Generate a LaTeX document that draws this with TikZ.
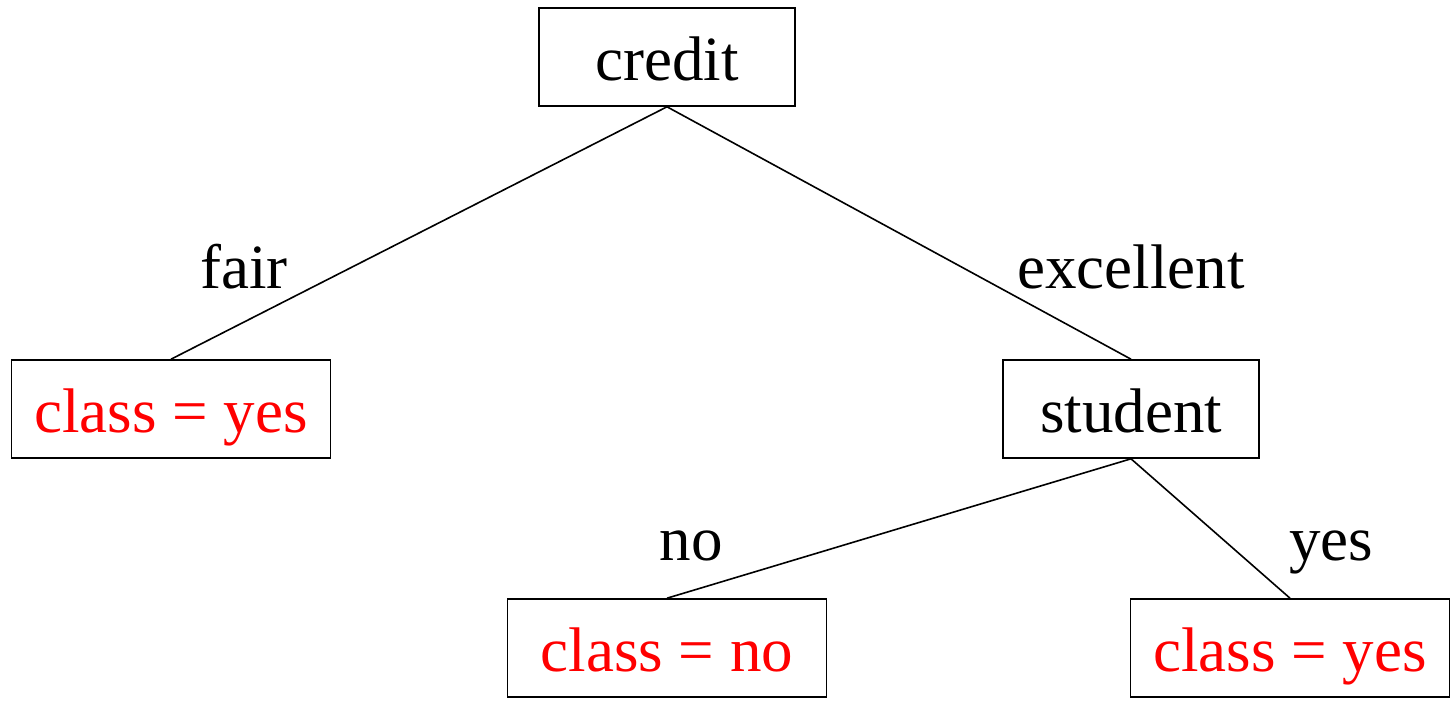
\documentclass[tikz,border=0pt]{standalone}
\usepackage{fontspec}
\setmainfont{Liberation Serif}
\begin{document}
\begin{tikzpicture}[x=1pt,y=-1pt,
    tbox/.style={draw, line width=1.6pt, inner sep=0pt,
                 minimum height=98pt, text height=62pt, text depth=16pt,
                 font=\fontsize{63}{75}\selectfont},
    leaf/.style={tbox, text=red, minimum width=319pt},
    test/.style={tbox, minimum width=256pt},
    elabel/.style={anchor=base, inner sep=0pt, font=\fontsize{63}{75}\selectfont},
    edge/.style={line width=1.6pt}]
\useasboundingbox (0,0) rectangle (1450,701);
  \node[test] (credit)  at (667,57)   {credit};
  \node[leaf] (yesL)    at (171,409)  {class = yes};
  \node[test] (student) at (1131,409) {student};
  \node[leaf] (noM)     at (667,648)  {class = no};
  \node[leaf] (yesR)    at (1290,648) {class = yes};

  \draw[edge] (credit.south) -- (yesL.north);
  \draw[edge] (credit.south) -- (student.north);
  \draw[edge] (student.south) -- (noM.north);
  \draw[edge] (student.south) -- (yesR.north);

  \node[elabel] (fair)  at (244,288)  {fair};
  \node[elabel] (exc)   at (1131,288) {excellent};
  \node[elabel] (no)    at (691,560)  {no};
  \node[elabel] (yes)   at (1331,560) {yes};
\end{tikzpicture}
\end{document}
